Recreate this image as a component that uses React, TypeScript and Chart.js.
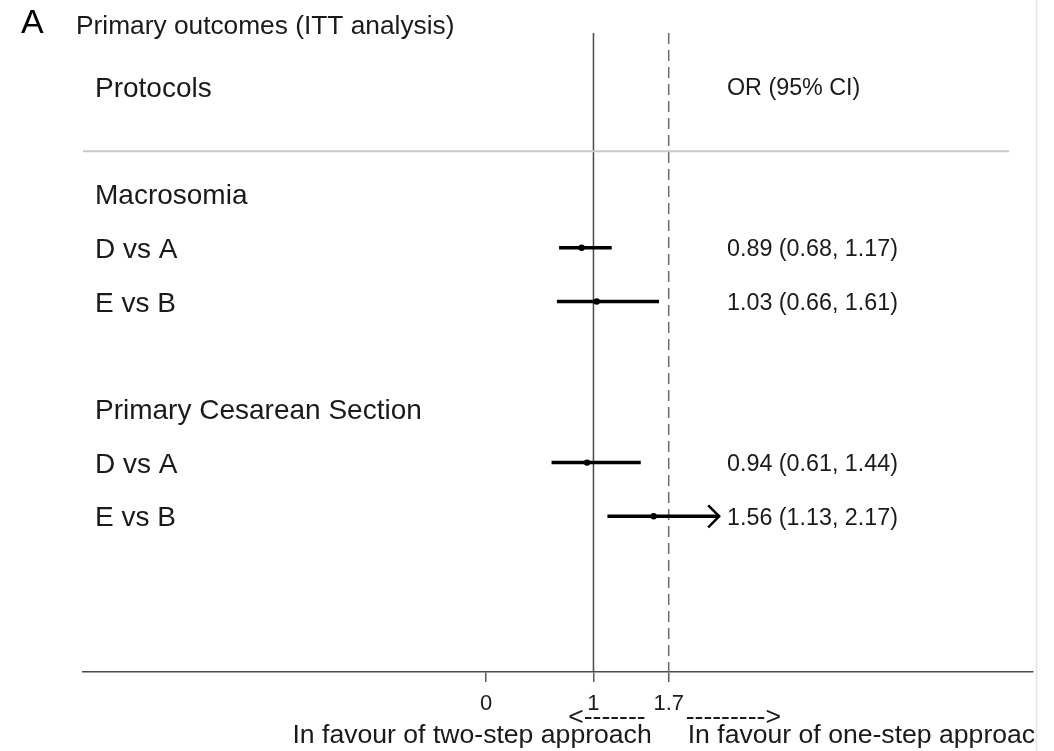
import React, { useEffect, useRef } from "react";
import { Chart, registerables } from "chart.js";

Chart.register(...registerables);

// Forest plot rows (row index grows downwards; row 0 holds the column headers)
const groupLabels = ["Macrosomia", "Primary Cesarean Section"];
const groupRows = [2, 6];
const comparisonLabels = ["D vs A", "E vs B", "D vs A", "E vs B"];
const comparisonRows = [3, 4, 7, 8];
const oddsRatios = [0.89, 1.03, 0.94, 1.56];
const lowerCI = [0.68, 0.66, 0.61, 1.13];
const upperCI = [1.17, 1.61, 1.44, 2.17];
const arrowRows = [false, false, false, true];

// Axis
const tickValues = [0, 1, 1.7];
const nullLine = 1;
const referenceLine = 1.7;
const xMin = -3.75;
const xMax = 5.09;
const yMin = -1;
const yMax = 10.9;
const headerSeparatorRow = 1.2;

const FONT = '"Liberation Sans", Arial, Helvetica, sans-serif';
const TEXT = "#1a1a1a";

const fmt = (v: number) => v.toFixed(2);

const forestText = {
  id: "forestText",
  afterDatasetsDraw(chart: any) {
    const { ctx, scales } = chart;
    const xs = scales.x;
    const ys = scales.y;
    const area = chart.chartArea;
    ctx.save();

    // header separator
    const sepY = ys.getPixelForValue(headerSeparatorRow);
    ctx.strokeStyle = "#c9c9c9";
    ctx.lineWidth = 2;
    ctx.beginPath();
    ctx.moveTo(area.left, sepY);
    ctx.lineTo(area.right - 24, sepY);
    ctx.stroke();

    // arrow heads for intervals that run on past the plotted range
    ctx.strokeStyle = "#000";
    ctx.lineWidth = 2.5;
    arrowRows.forEach((hasArrow, i) => {
      if (!hasArrow) return;
      const tip = xs.getPixelForValue(upperCI[i]);
      const y = ys.getPixelForValue(comparisonRows[i]);
      ctx.beginPath();
      ctx.moveTo(tip - 11, y - 11);
      ctx.lineTo(tip, y);
      ctx.lineTo(tip - 11, y + 11);
      ctx.stroke();
    });

    const baseline = (row: number, size: number) =>
      ys.getPixelForValue(row) + size * 0.716 * 0.5;

    ctx.fillStyle = TEXT;
    ctx.textAlign = "left";
    ctx.textBaseline = "alphabetic";

    // panel letter and title
    ctx.font = `34px ${FONT}`;
    ctx.fillStyle = "#000";
    ctx.fillText("A", 21, 33);
    ctx.fillStyle = TEXT;
    ctx.font = `26.3px ${FONT}`;
    ctx.fillText("Primary outcomes (ITT analysis)", 76, 34);

    // left column
    const leftX = 95;
    ctx.font = `28px ${FONT}`;
    ctx.fillText("Protocols", leftX, baseline(0, 28));
    groupLabels.forEach((g, i) => ctx.fillText(g, leftX, baseline(groupRows[i], 28)));
    comparisonLabels.forEach((c, i) =>
      ctx.fillText(c, leftX, baseline(comparisonRows[i], 28))
    );

    // right column
    const rightX = 727;
    ctx.font = `23.3px ${FONT}`;
    ctx.fillText("OR (95% CI)", rightX, baseline(0, 23.3));
    oddsRatios.forEach((or, i) =>
      ctx.fillText(
        `${fmt(or)} (${fmt(lowerCI[i])}, ${fmt(upperCI[i])})`,
        rightX,
        baseline(comparisonRows[i], 23.3)
      )
    );

    // favours labels under the axis
    const refX = xs.getPixelForValue(referenceLine);
    ctx.font = `26.6px ${FONT}`;
    ctx.textAlign = "right";
    ctx.fillText("<-------", refX - 23, 725);
    ctx.fillText("In favour of two-step approach", refX - 17, 743);
    ctx.textAlign = "left";
    ctx.fillText("--------->", refX + 17, 725);
    ctx.save();
    ctx.beginPath();
    ctx.rect(0, 0, 1036, chart.height);
    ctx.clip();
    ctx.fillText("In favour of one-step approach", refX + 19, 743);
    ctx.restore();

    // right frame edge
    ctx.strokeStyle = "#e4e4e4";
    ctx.lineWidth = 1.5;
    ctx.beginPath();
    ctx.moveTo(1036.5, 0);
    ctx.lineTo(1036.5, chart.height);
    ctx.stroke();

    ctx.restore();
  },
};

export default function App() {
  const canvasRef = useRef<HTMLCanvasElement | null>(null);

  useEffect(() => {
    if (!canvasRef.current) return;

    const ciSets = oddsRatios.map((_, i) => ({
      type: "scatter" as const,
      data: [
        { x: lowerCI[i], y: comparisonRows[i] },
        { x: upperCI[i], y: comparisonRows[i] },
      ],
      showLine: true,
      borderColor: "#000",
      borderWidth: 3.5,
      pointRadius: 0,
      order: 1,
    }));

    const chart = new Chart(canvasRef.current, {
      type: "scatter",
      data: {
        datasets: [
          {
            data: oddsRatios.map((v, i) => ({ x: v, y: comparisonRows[i] })),
            pointRadius: 3.2,
            pointBackgroundColor: "#000",
            pointBorderColor: "#000",
            pointBorderWidth: 0,
            order: 0,
          },
          ...ciSets,
          {
            data: [
              { x: nullLine, y: yMin },
              { x: nullLine, y: yMax },
            ],
            showLine: true,
            borderColor: "#4a4a4a",
            borderWidth: 1.5,
            pointRadius: 0,
            order: 2,
          },
          {
            data: [
              { x: referenceLine, y: yMin },
              { x: referenceLine, y: yMax },
            ],
            showLine: true,
            borderColor: "#6a6a6a",
            borderWidth: 1.5,
            borderDash: [11, 6],
            pointRadius: 0,
            order: 2,
          },
        ] as any,
      },
      options: {
        animation: false,
        responsive: true,
        maintainAspectRatio: false,
        layout: { padding: { left: 83, right: 21, top: 33, bottom: 0 } },
        plugins: {
          legend: { display: false },
          tooltip: { enabled: false },
          title: { display: false },
        },
        scales: {
          x: {
            type: "linear",
            min: xMin,
            max: xMax,
            afterBuildTicks: (scale: any) => {
              scale.ticks = tickValues.map((v) => ({ value: v }));
            },
            afterFit: (scale: any) => {
              scale.height = 79;
            },
            ticks: {
              autoSkip: false,
              maxRotation: 0,
              padding: 9,
              color: "#1a1a1a",
              font: { size: 22, family: FONT },
              callback: (v: any) => String(v),
            },
            grid: {
              drawOnChartArea: false,
              drawTicks: true,
              tickLength: 10,
              color: "#5a5a5a",
              lineWidth: 1.5,
            },
            border: { display: true, color: "#4a4a4a", width: 1.5 },
          },
          y: {
            type: "linear",
            reverse: true,
            min: yMin,
            max: yMax,
            display: false,
          },
        },
      },
      plugins: [forestText],
    });

    return () => chart.destroy();
  }, []);

  return (
    <div
      style={{
        position: "absolute",
        left: 0,
        top: 0,
        width: "1054px",
        height: "751px",
        background: "#fff",
      }}
    >
      <canvas ref={canvasRef} />
    </div>
  );
}
